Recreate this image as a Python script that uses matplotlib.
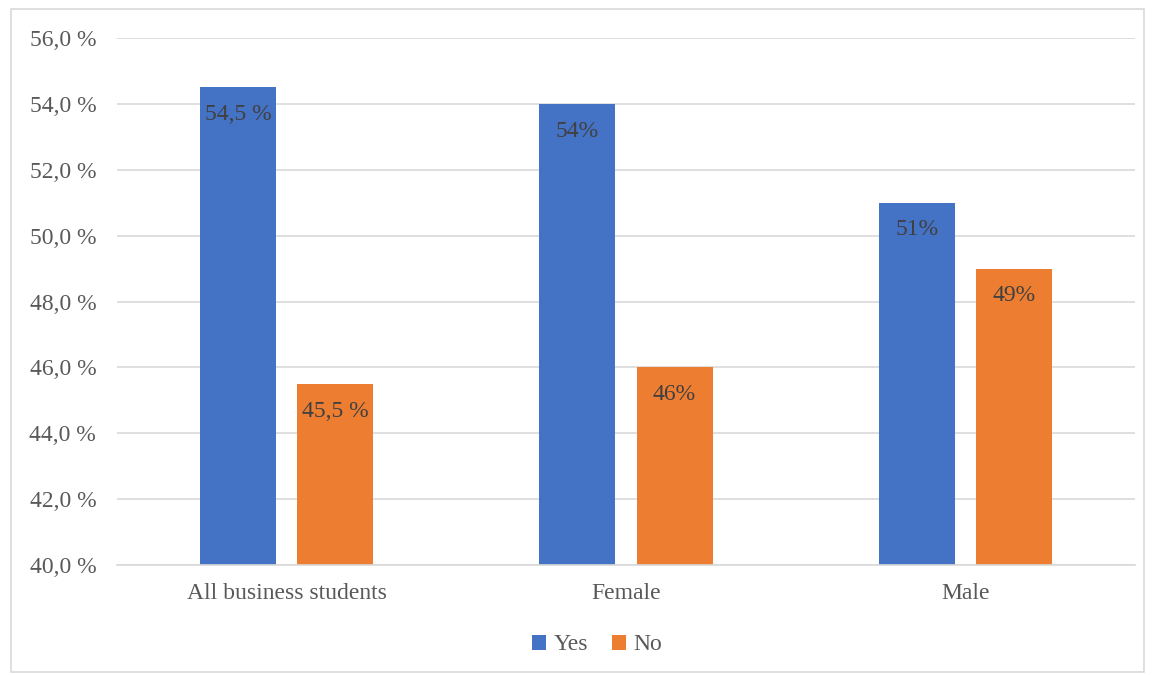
import matplotlib.pyplot as plt
import numpy as np
from matplotlib.patches import Rectangle

categories = ['All business students', 'Female', 'Male']
yes_vals = [54.5, 54.0, 51.0]
no_vals = [45.5, 46.0, 49.0]
yes_labels = ['54,5 %', '54%', '51%']
no_labels = ['45,5 %', '46%', '49%']
yticks = [40, 42, 44, 46, 48, 50, 52, 54, 56]

plt.rcParams['font.family'] = ['Liberation Serif', 'DejaVu Serif']

fig = plt.figure(figsize=(11.55, 6.75), dpi=100)
ax = fig.add_axes([117 / 1155, 1 - 565 / 675, 1018 / 1155, 527 / 675])

# outer chart border
fig.patches.append(Rectangle((11 / 1155, 3 / 675), 1133 / 1155, 663 / 675,
                             transform=fig.transFigure, fill=False,
                             edgecolor='#d9d9d9', linewidth=1.2))

x = np.arange(len(categories))
w = 0.224
off = 0.143
b1 = ax.bar(x - off, yes_vals, w, color='#4472C4', label='Yes', zorder=2)
b2 = ax.bar(x + off, no_vals, w, color='#ED7D31', label='No', zorder=2)

for bars, labs in ((b1, yes_labels), (b2, no_labels)):
    for r, lab in zip(bars, labs):
        ax.annotate(lab, (r.get_x() + r.get_width() / 2, r.get_height()),
                    xytext=(0, -12), textcoords='offset points',
                    ha='center', va='top', fontsize=17, color='#404040', zorder=3)

ax.set_ylim(40, 56)
ax.set_xlim(-0.5, 2.5)
ax.set_yticks(yticks)
ax.set_yticklabels([f'{v:.1f}'.replace('.', ',') + ' %' for v in yticks])
ax.set_xticks(x)
ax.set_xticklabels(categories)
ax.tick_params(axis='both', length=0, labelsize=17, labelcolor='#595959')
ax.tick_params(axis='y', pad=15)
ax.tick_params(axis='x', pad=13)
ax.grid(axis='y', color='#d9d9d9', linewidth=1.2, zorder=0)
for s in ['top', 'right', 'left']:
    ax.spines[s].set_visible(False)
ax.spines['bottom'].set_color('#d9d9d9')
ax.spines['bottom'].set_linewidth(1.2)

fig.legend(loc='center', bbox_to_anchor=(597 / 1155, 1 - 645 / 675), ncol=2,
           frameon=False, fontsize=17, labelcolor='#595959',
           handlelength=0.6, handleheight=0.6, handletextpad=0.3, columnspacing=1.0)

fig.savefig('out.png', dpi=100)
